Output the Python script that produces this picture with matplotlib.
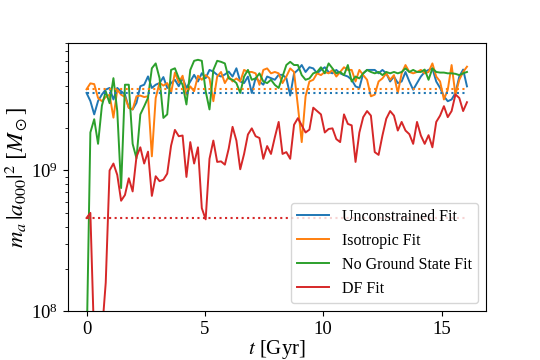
import numpy as np
import matplotlib
matplotlib.use('Agg')
import matplotlib.pyplot as plt

plt.rcParams['font.family'] = ['Liberation Serif', 'DejaVu Serif']
plt.rcParams['mathtext.fontset'] = 'stix'

# time grid [Gyr], 100 snapshots
t = np.linspace(0, 16.07, 100)

# m_a |a_000|^2 in units of 1e9 M_sun
unconstrained = [3.55, 3.11, 2.50, 3.11, 3.46, 3.75, 3.85, 3.19, 3.85, 3.65,
                 3.46, 2.79, 2.71, 3.02, 3.96, 4.06, 4.65, 3.85, 4.06, 4.17,
                 4.60, 3.85, 4.17, 4.40, 3.96, 4.53, 3.85, 4.28, 4.77, 4.28,
                 4.90, 4.52, 5.17, 5.03, 4.77, 4.64, 4.80, 5.03, 4.64, 5.31,
                 4.28, 4.17, 4.64, 3.55, 4.52, 4.28, 4.06, 4.64, 4.52, 4.40,
                 4.77, 4.77, 4.52, 3.40, 4.89, 5.17, 5.60, 5.00, 5.40, 5.30,
                 4.89, 5.17, 5.40, 5.00, 4.89, 5.17, 4.89, 4.75, 4.64, 4.40,
                 3.95, 3.85, 4.89, 5.17, 5.17, 5.17, 4.89, 5.17, 4.89, 4.28,
                 4.64, 4.17, 4.28, 5.00, 4.28, 3.74, 4.17, 4.64, 5.00, 5.17,
                 5.30, 4.28, 3.85, 3.36, 3.10, 3.19, 3.55, 4.64, 5.20, 3.95]

isotropic = [3.77, 4.15, 4.10, 3.27, 3.10, 3.32, 3.45, 2.37, 3.74, 3.45,
             3.32, 2.78, 2.71, 3.36, 3.40, 3.32, 3.36, 1.26, 3.27, 4.20,
             4.00, 4.17, 3.55, 4.95, 4.20, 4.70, 3.45, 3.95, 3.65, 4.70,
             4.40, 4.75, 4.50, 3.10, 4.64, 5.00, 4.17, 4.64, 4.28, 4.50,
             4.28, 5.17, 5.00, 5.00, 4.89, 4.05, 5.17, 5.30, 4.89, 5.00,
             4.89, 4.17, 4.64, 5.30, 5.00, 2.86, 1.59, 3.36, 4.28, 4.40,
             4.89, 4.75, 5.00, 4.89, 5.17, 4.64, 5.00, 5.40, 5.17, 5.17,
             4.28, 5.17, 4.75, 4.40, 3.36, 3.45, 4.28, 4.50, 4.89, 4.40,
             4.75, 3.55, 4.89, 5.60, 5.00, 4.89, 5.00, 5.17, 4.89, 5.00,
             5.75, 4.64, 4.28, 3.19, 3.74, 5.60, 3.45, 4.40, 5.00, 5.45]

no_ground = [0.05, 1.86, 2.31, 1.545, 2.88, 3.64, 3.00, 4.52, 2.64, 0.75,
             4.06, 4.06, 1.545, 1.22, 2.50, 2.85, 3.28, 5.31, 5.75, 4.52,
             2.36, 2.50, 5.17, 5.31, 4.52, 4.06, 2.94, 5.17, 6.00, 6.10,
             6.00, 3.65, 2.71, 5.17, 6.00, 5.90, 5.75, 4.50, 4.40, 4.17,
             3.55, 4.64, 5.17, 4.40, 4.50, 4.89, 4.28, 4.17, 4.40, 4.05,
             3.85, 4.64, 5.60, 5.90, 5.60, 5.60, 4.75, 4.40, 4.50, 4.89,
             5.00, 5.40, 4.89, 5.75, 5.30, 4.89, 5.00, 4.75, 5.60, 4.28,
             4.64, 4.50, 4.89, 5.17, 5.00, 4.89, 5.00, 4.75, 5.00, 4.89,
             5.00, 4.89, 5.00, 5.30, 5.00, 5.17, 5.00, 5.00, 5.20, 4.40,
             5.30, 5.00, 4.95, 4.95, 4.89, 4.89, 4.85, 4.75, 4.89, 5.00]

df_fit = [0.46, 0.50, 0.06, 0.04, 0.07, 0.16, 1.00, 1.12, 0.93, 0.61,
          0.67, 0.88, 0.71, 1.25, 1.46, 1.12, 1.36, 0.66, 0.91, 0.84,
          0.86, 0.95, 1.50, 1.94, 1.75, 1.77, 0.90, 1.59, 1.12, 1.46,
          0.54, 0.45, 1.21, 1.63, 1.15, 1.16, 1.10, 1.43, 2.04, 1.63,
          1.02, 1.31, 1.80, 1.99, 1.75, 1.70, 1.21, 1.49, 1.31, 1.72,
          2.21, 1.31, 1.35, 1.21, 2.11, 2.35, 2.09, 1.86, 1.95, 2.79,
          2.64, 2.50, 1.86, 1.97, 1.99, 1.67, 1.59, 2.50, 2.14, 2.09,
          1.15, 1.86, 2.39, 2.64, 2.45, 1.35, 1.29, 1.77, 2.33, 2.64,
          2.45, 1.92, 2.21, 1.92, 1.81, 1.545, 2.21, 1.77, 1.545, 1.78,
          1.46, 2.21, 2.45, 2.86, 2.39, 2.64, 3.46, 3.27, 2.64, 3.05]

# fitted constant levels (1e9 M_sun)
level_unconstrained = 3.55
level_isotropic = 3.79
level_df = 0.46

labels = ['Unconstrained Fit', 'Isotropic Fit', 'No Ground State Fit', 'DF Fit']
colors = ['C0', 'C1', 'C2', 'C3']

fig, ax = plt.subplots(figsize=(5.4, 3.6), dpi=100)
fig.subplots_adjust(left=0.125, right=0.9, top=0.88, bottom=0.135)

series = [unconstrained, isotropic, no_ground, df_fit]
for vals, lab, c in zip(series, labels, colors):
    ax.plot(t, np.array(vals) * 1e9, color=c, lw=1.4, label=lab)

for lev, c in zip([level_unconstrained, level_isotropic, level_df], ['C0', 'C1', 'C3']):
    ax.plot([t[0], t[-1]], [lev * 1e9, lev * 1e9], ':', color=c, lw=1.5)

ax.set_yscale('log')
ax.set_ylim(1e8, 8e9)
ax.set_xticks([0, 5, 10, 15])
ax.tick_params(labelsize=13.5)
ax.set_xlabel(r'$t$ [Gyr]', fontsize=15, labelpad=0)
ax.set_ylabel(r'$m_a\,|a_{000}|^2\ [M_\odot]$', fontsize=16.5, labelpad=1)
ax.legend(loc='lower right', fontsize=11.5, handlelength=2.0, labelspacing=0.5)

fig.savefig('out.png', dpi=100)
